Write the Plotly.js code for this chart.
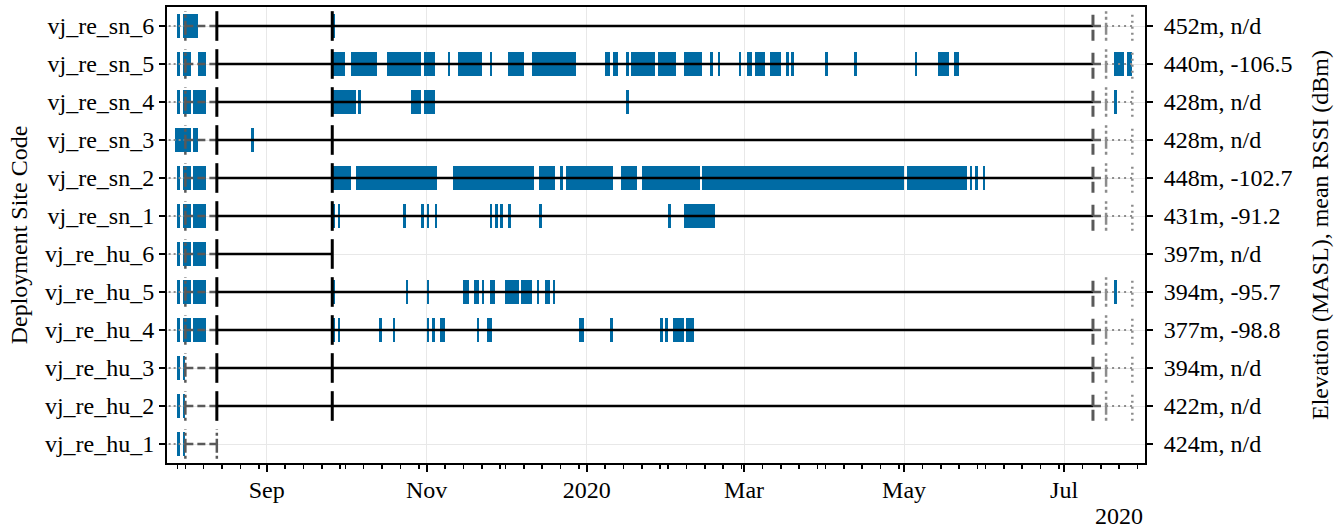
<!DOCTYPE html>
<html>
<head>
<meta charset="utf-8">
<script src="https://cdn.plot.ly/plotly-3.0.1.min.js"></script>
<style>html,body{margin:0;padding:0;background:#fff;}#chart{width:1344px;height:529px;}</style>
</head>
<body>
<div id="chart"></div>
<script>
// ---------- DATA ----------
const sites = ['vj_re_hu_1','vj_re_hu_2','vj_re_hu_3','vj_re_hu_4','vj_re_hu_5','vj_re_hu_6',
               'vj_re_sn_1','vj_re_sn_2','vj_re_sn_3','vj_re_sn_4','vj_re_sn_5','vj_re_sn_6'];
const siteInfo = ['424m, n/d','422m, n/d','394m, n/d','377m, -98.8','394m, -95.7','397m, n/d',
                  '431m, -91.2','448m, -102.7','428m, n/d','428m, n/d','440m, -106.5','452m, n/d'];

// detection periods [start, end) per site
const det_hu_1 = [['2019-07-29','2019-07-30'],['2019-07-31','2019-08-01']];
const det_hu_2 = [['2019-07-29','2019-07-30'],['2019-07-31','2019-08-01']];
const det_hu_3 = [['2019-07-29','2019-07-30'],['2019-07-31','2019-08-01']];
const det_hu_4 = [['2019-07-29','2019-07-30'],['2019-07-31','2019-08-03'],['2019-08-04','2019-08-09'],
  ['2019-09-26','2019-09-27'],['2019-09-28','2019-09-29'],['2019-10-14','2019-10-15'],['2019-10-19','2019-10-20'],
  ['2019-11-01','2019-11-02'],['2019-11-03','2019-11-04'],['2019-11-06','2019-11-08'],['2019-11-20','2019-11-21'],
  ['2019-11-24','2019-11-26'],['2019-12-29','2019-12-31'],['2020-01-10','2020-01-11'],['2020-01-29','2020-01-30'],
  ['2020-01-31','2020-02-01'],['2020-02-03','2020-02-07'],['2020-02-08','2020-02-11']];
const det_hu_5 = [['2019-07-29','2019-07-30'],['2019-07-31','2019-08-03'],['2019-08-04','2019-08-09'],
  ['2019-09-26','2019-09-27'],['2019-10-24','2019-10-25'],['2019-11-01','2019-11-02'],['2019-11-15','2019-11-17'],
  ['2019-11-19','2019-11-21'],['2019-11-22','2019-11-23'],['2019-11-25','2019-11-27'],['2019-12-01','2019-12-03'],
  ['2019-12-03','2019-12-06'],['2019-12-07','2019-12-11'],['2019-12-13','2019-12-14'],['2019-12-16','2019-12-18'],
  ['2019-12-19','2019-12-20'],['2020-07-20','2020-07-21']];
const det_hu_6 = [['2019-07-29','2019-07-30'],['2019-07-31','2019-08-03'],['2019-08-04','2019-08-09']];
const det_sn_1 = [['2019-07-29','2019-07-30'],['2019-07-31','2019-08-03'],['2019-08-04','2019-08-09'],
  ['2019-09-26','2019-09-27'],['2019-09-28','2019-09-29'],['2019-10-23','2019-10-24'],['2019-10-30','2019-10-31'],
  ['2019-11-01','2019-11-02'],['2019-11-04','2019-11-05'],['2019-11-25','2019-11-26'],['2019-11-27','2019-11-28'],
  ['2019-11-29','2019-11-30'],['2019-12-02','2019-12-03'],['2019-12-14','2019-12-15'],['2020-02-01','2020-02-02'],
  ['2020-02-07','2020-02-19']];
const det_sn_2 = [['2019-07-29','2019-07-30'],['2019-07-31','2019-08-03'],['2019-08-04','2019-08-09'],
  ['2019-09-26','2019-10-03'],['2019-10-05','2019-11-05'],['2019-11-11','2019-12-12'],['2019-12-14','2019-12-20'],
  ['2019-12-22','2019-12-23'],['2019-12-24','2020-01-11'],['2020-01-14','2020-01-20'],['2020-01-22','2020-02-13'],
  ['2020-02-14','2020-05-01'],['2020-05-02','2020-05-25'],['2020-05-26','2020-05-27'],['2020-05-28','2020-05-29'],
  ['2020-05-31','2020-06-01']];
const det_sn_3 = [['2019-07-28','2019-08-03'],['2019-08-04','2019-08-06'],['2019-08-26','2019-08-27']];
const det_sn_4 = [['2019-07-29','2019-07-30'],['2019-07-31','2019-08-03'],['2019-08-04','2019-08-09'],
  ['2019-09-26','2019-10-05'],['2019-10-06','2019-10-07'],['2019-10-26','2019-10-30'],['2019-10-31','2019-11-01'],
  ['2019-11-01','2019-11-04'],['2020-01-16','2020-01-17'],['2020-07-20','2020-07-21']];
const det_sn_5 = [['2019-07-29','2019-07-30'],['2019-07-31','2019-08-03'],['2019-08-06','2019-08-09'],
  ['2019-09-26','2019-10-01'],['2019-10-03','2019-10-13'],['2019-10-17','2019-10-30'],['2019-10-31','2019-11-04'],
  ['2019-11-09','2019-11-10'],['2019-11-13','2019-11-22'],['2019-11-25','2019-11-26'],['2019-12-02','2019-12-08'],
  ['2019-12-11','2019-12-28'],['2020-01-08','2020-01-10'],['2020-01-11','2020-01-13'],['2020-01-16','2020-01-17'],
  ['2020-01-18','2020-01-27'],['2020-01-28','2020-02-04'],['2020-02-07','2020-02-14'],['2020-02-17','2020-02-18'],
  ['2020-02-20','2020-02-21'],['2020-02-28','2020-02-29'],['2020-03-02','2020-03-04'],['2020-03-05','2020-03-09'],
  ['2020-03-11','2020-03-15'],['2020-03-17','2020-03-18'],['2020-03-19','2020-03-20'],['2020-04-01','2020-04-02'],
  ['2020-04-12','2020-04-13'],['2020-05-05','2020-05-06'],['2020-05-14','2020-05-18'],['2020-05-20','2020-05-22'],
  ['2020-07-20','2020-07-24'],['2020-07-25','2020-07-27']];
const det_sn_6 = [['2019-07-29','2019-07-30'],['2019-07-31','2019-08-06'],['2019-09-26','2019-09-27']];
const detections = [det_hu_1,det_hu_2,det_hu_3,det_hu_4,det_hu_5,det_hu_6,
                    det_sn_1,det_sn_2,det_sn_3,det_sn_4,det_sn_5,det_sn_6];

// site visits (per site, '' = none)
const visitPrev    = ['2019-07-18','2019-07-18','2019-07-18','2019-07-18','2019-07-18','2019-07-18','2019-07-18','2019-07-18','2019-07-18','2019-07-18','2019-07-18','2019-07-18'];
const visitFirst   = ['2019-08-01','2019-08-01','2019-08-01','2019-08-01','2019-08-01','2019-08-01','2019-08-01','2019-08-01','2019-08-01','2019-08-01','2019-08-01','2019-08-01'];
const visitLast1   = ['2019-08-13','','','','','','','','','','',''];
const installDate  = ['','2019-08-13','2019-08-13','2019-08-13','2019-08-13','2019-08-13','2019-08-13','2019-08-13','2019-08-13','2019-08-13','2019-08-13','2019-08-13'];
const serviceDate  = ['','2019-09-26','2019-09-26','2019-09-26','2019-09-26','2019-09-26','2019-09-26','2019-09-26','2019-09-26','2019-09-26','2019-09-26','2019-09-26'];
const removalDate  = ['','2020-07-12','2020-07-12','2020-07-12','2020-07-12','','2020-07-12','2020-07-12','2020-07-12','2020-07-12','2020-07-12','2020-07-12'];
const checkDate    = ['','2020-07-17','2020-07-17','2020-07-17','2020-07-17','','2020-07-17','2020-07-17','2020-07-17','2020-07-17','2020-07-17','2020-07-17'];
const finalDate    = ['','2020-07-27','2020-07-27','2020-07-27','2020-07-27','','2020-07-27','2020-07-27','2020-07-27','2020-07-27','2020-07-27','2020-07-27'];

const majorTickVals = ['2019-09-01','2019-11-01','2020-01-01','2020-03-01','2020-05-01','2020-07-01'];
const majorTickText = ['Sep','Nov','2020','Mar','May','Jul'];

// ---------- BUILD ----------
const H = 0.39;       // half height of visit markers (row units)
const toMs = s => new Date(s + 'T00:00:00Z').getTime();

const barY = [], barBase = [], barLen = [];
detections.forEach((list, i) => list.forEach(([a, b]) => {
  barY.push(i); barBase.push(a); barLen.push(toMs(b) - toMs(a));
}));

function hsegs(fromArr, toArr) {
  const x = [], y = [];
  fromArr.forEach((a, i) => { const b = toArr[i]; if (a && b) { x.push(a, b, null); y.push(i, i, null); } });
  return {x, y};
}
function vsegs(arr) {
  const x = [], y = [];
  arr.forEach((d, i) => { if (d) { x.push(d, d, null); y.push(i - H, i + H, null); } });
  return {x, y};
}
const solidEnd = removalDate.map((r, i) => r || serviceDate[i]);
const dashEnd = visitFirst.map((d, i) => installDate[i] || visitLast1[i]);

const FONT = 'Liberation Serif, Times New Roman, serif';
const FS = 24;
const DGRAY = '#595959', LGRAY = '#8c8c8c';

function line(seg, color, width, dash, extra) {
  return Object.assign({type:'scatter', mode:'lines', x: seg.x, y: seg.y,
    line:{color, width, dash}, hoverinfo:'skip', showlegend:false, connectgaps:false}, extra || {});
}

const traces = [
  {type:'bar', orientation:'h', y: barY, base: barBase, x: barLen, width: 0.62,
   marker:{color:'#006BA4', line:{width:0}}, hoverinfo:'skip', showlegend:false},
  line(hsegs(visitPrev, visitFirst), LGRAY, 2, '2px,3px'),
  line(hsegs(visitFirst, dashEnd), DGRAY, 2.4, '8px,4px'),
  line(hsegs(installDate, solidEnd), '#000000', 2.4, 'solid'),
  line(hsegs(removalDate, checkDate), DGRAY, 2.4, '8px,4px'),
  line(hsegs(checkDate, finalDate), LGRAY, 2, '2px,4px'),
  line(vsegs(visitFirst), DGRAY, 2.5, '3px,3px,14px,3px'),
  line(vsegs(visitLast1), DGRAY, 2.5, '3px,3px,14px,3px'),
  line(vsegs(installDate), '#000000', 3, 'solid'),
  line(vsegs(serviceDate), '#000000', 3, 'solid'),
  line(vsegs(removalDate), DGRAY, 3, '11px,4px'),
  line(vsegs(checkDate), LGRAY, 2.5, '3px,3px,12px,3px'),
  line(vsegs(finalDate), LGRAY, 2.5, '2px,4px', {yaxis:'y2'})
];

// minor ticks on days 1, 8, 15, 22, 29 of each month
const minorVals = [];
for (let m = 6; m <= 18; m++) {
  const yr = 2019 + Math.floor(m / 12), mo = m % 12;
  [1, 8, 15, 22, 29].forEach(d => {
    const s = `${yr}-${String(mo + 1).padStart(2, '0')}-${String(d).padStart(2, '0')}`;
    if (!majorTickVals.includes(s)) minorVals.push(s);
  });
}

const yTicks = sites.map((_, i) => i);
const tf = {family: FONT, size: FS, color: '#000'};
const layout = {
  width: 1344, height: 529,
  margin: {l: 167, r: 199, t: 7, b: 66},
  paper_bgcolor: '#ffffff', plot_bgcolor: '#ffffff',
  font: tf,
  showlegend: false,
  bargap: 0,
  xaxis: {
    type: 'date', range: ['2019-07-25', '2020-07-31 20:00'],
    tickmode: 'array', tickvals: majorTickVals, ticktext: majorTickText,
    ticks: 'outside', ticklen: 7, tickwidth: 2, tickcolor: '#000',
    showline: true, linewidth: 2, linecolor: '#000', mirror: true,
    showgrid: true, gridcolor: '#e8e8e8', gridwidth: 1, zeroline: false,
    ticklabelstandoff: -3,
    minor: {tickmode: 'array', tickvals: minorVals, ticks: 'outside', ticklen: 4, tickwidth: 1.5, tickcolor: '#000', showgrid: false},
    tickfont: tf
  },
  yaxis: {
    range: [-0.5, 11.5], tickmode: 'array', tickvals: yTicks, ticktext: sites,
    ticks: 'outside', ticklen: 6, tickwidth: 1.5, tickcolor: '#000',
    showline: true, linewidth: 2, linecolor: '#000', mirror: true,
    showgrid: true, gridcolor: '#e8e8e8', gridwidth: 1, zeroline: false,
    tickfont: tf,
    title: {text: 'Deployment Site Code', font: tf, standoff: 10}
  },
  yaxis2: {
    overlaying: 'y', side: 'right', anchor: 'x',
    range: [-0.5, 11.5], tickmode: 'array', tickvals: yTicks, ticktext: siteInfo,
    ticks: 'outside', ticklen: 6, tickwidth: 1.5, tickcolor: '#000',
    showline: true, linewidth: 2, linecolor: '#000',
    showgrid: false, zeroline: false,
    ticklabelstandoff: 6,
    tickfont: tf,
    title: {text: 'Elevation (MASL), mean RSSI (dBm)', font: tf, standoff: 20}
  },
  annotations: [{
    text: '2020', xref: 'paper', yref: 'paper', x: 1, y: 0, xanchor: 'right', yanchor: 'middle',
    yshift: -53, showarrow: false, font: {family: FONT, size: FS, color: '#000'}
  }]
};

Plotly.newPlot('chart', traces, layout, {displayModeBar: false, staticPlot: true});
</script>
</body>
</html>
